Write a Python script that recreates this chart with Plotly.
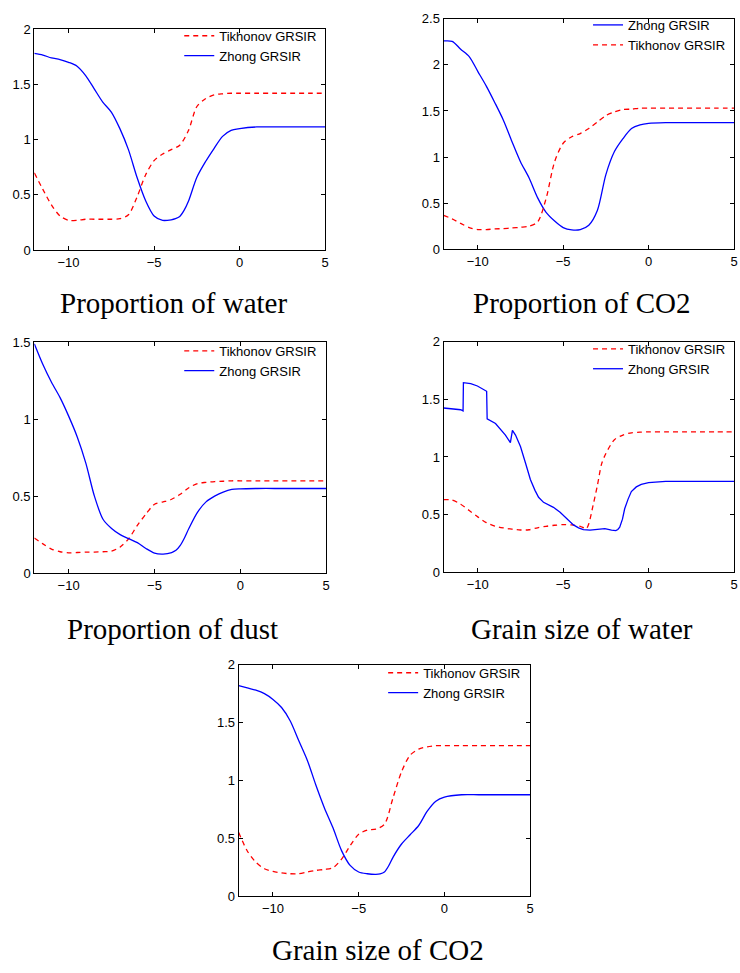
import plotly.graph_objects as go

W, H = 740, 973

# ---------------- data ----------------
X_STD = [-12, -11.5, -11, -10.5, -10, -9.5, -9, -8.5, -8, -7.5, -7, -6.5, -6, -5.5,
         -5, -4.5, -4, -3.5, -3, -2.5, -2, -1.5, -1, -0.5, 0, 1, 2, 3, 4, 5]
X_FINE = [-12, -11.5, -11, -10.5, -10, -9.5, -9, -8.5, -8, -7.5, -7, -6.5, -6, -5.5,
          -5, -4.5, -4, -3.75, -3.5, -3.25, -3, -2.5, -2, -1.5, -1, -0.5, 0, 1, 2, 3, 4, 5]

# Proportion of water
water_tik = [0.70, 0.55, 0.41, 0.31, 0.27, 0.27, 0.28, 0.28, 0.28, 0.28, 0.285, 0.32, 0.48, 0.68,
             0.81, 0.87, 0.91, 0.95, 1.08, 1.30, 1.37, 1.405, 1.415, 1.42, 1.42, 1.42, 1.42, 1.42, 1.42, 1.42]
water_zh = [1.78, 1.765, 1.74, 1.725, 1.70, 1.665, 1.58, 1.46, 1.34, 1.25, 1.10, 0.91, 0.66, 0.45,
            0.31, 0.27, 0.275, 0.285, 0.305, 0.36, 0.44, 0.66, 0.80, 0.92, 1.03, 1.085, 1.10,
            1.115, 1.115, 1.115, 1.115, 1.115]

# Proportion of CO2
co2_zh = [2.26, 2.255, 2.17, 2.09, 1.93, 1.77, 1.59, 1.40, 1.17, 0.95, 0.775, 0.56, 0.40, 0.306,
          0.235, 0.21, 0.213, 0.26, 0.42, 0.81, 1.06, 1.20, 1.31, 1.35, 1.366, 1.373, 1.373, 1.373, 1.373, 1.373]
co2_tik = [0.366, 0.33, 0.28, 0.235, 0.213, 0.213, 0.22, 0.224, 0.23, 0.238, 0.25, 0.295, 0.55, 0.95,
           1.15, 1.22, 1.255, 1.31, 1.38, 1.45, 1.49, 1.515, 1.52, 1.53, 1.53, 1.53, 1.53, 1.53, 1.53, 1.53]

# Proportion of dust
dust_tik = [0.228, 0.19, 0.156, 0.139, 0.132, 0.134, 0.137, 0.137, 0.139, 0.143, 0.17, 0.224, 0.31, 0.384,
            0.448, 0.463, 0.48, 0.512, 0.555, 0.582, 0.59, 0.595, 0.597, 0.6, 0.6, 0.6, 0.6, 0.6, 0.6, 0.6]
dust_zh = [1.49, 1.355, 1.24, 1.14, 1.02, 0.885, 0.715, 0.50, 0.35, 0.29, 0.25, 0.224, 0.198, 0.16,
           0.13, 0.124, 0.134, 0.148, 0.18, 0.23, 0.29, 0.395, 0.463, 0.50, 0.527, 0.544, 0.548,
           0.55, 0.55, 0.55, 0.55, 0.55]

# Grain size of water
gw_tik_x = [-12, -11.5, -11, -10.5, -10, -9.5, -9, -8.5, -8, -7.5, -7, -6.5, -6, -5.5, -5, -4.5, -4,
            -3.65, -3.5, -3.25, -3, -2.75, -2.5, -2, -1.5, -1, -0.5, 0, 1, 2, 3, 4, 5]
gw_tik = [0.63, 0.625, 0.59, 0.535, 0.48, 0.43, 0.40, 0.384, 0.373, 0.366, 0.368, 0.385, 0.398, 0.407,
          0.413, 0.41, 0.398, 0.378, 0.42, 0.58, 0.75, 0.94, 1.03, 1.15, 1.19, 1.21, 1.215, 1.218,
          1.218, 1.218, 1.218, 1.218, 1.218]
gw_zh_x = [-12, -11.5, -11, -10.86, -10.84, -10.41, -10.02, -9.48, -9.45, -8.96, -8.76, -8.38, -8.09,
           -7.97, -7.79, -7.5, -7.21, -6.92, -6.65, -6.44, -6.15, -5.85, -5.57, -5.18, -4.79, -4.4,
           -4.1, -3.82, -3.43, -3.1, -2.85, -2.56, -2.17, -1.92, -1.8, -1.69, -1.53, -1.4, -1.2, -1.01,
           -0.72, -0.43, 0, 0.64, 1, 2, 3, 4, 5]
gw_zh = [1.425, 1.415, 1.41, 1.40, 1.645, 1.636, 1.616, 1.57, 1.33, 1.29, 1.255, 1.19, 1.124,
         1.23, 1.19, 1.09, 0.95, 0.805, 0.71, 0.65, 0.606, 0.58, 0.563, 0.52, 0.464, 0.41,
         0.385, 0.37, 0.364, 0.37, 0.375, 0.378, 0.364, 0.361, 0.37, 0.39, 0.46, 0.55, 0.634, 0.70,
         0.74, 0.762, 0.777, 0.788, 0.788, 0.788, 0.788, 0.788, 0.788]

# Grain size of CO2
gc_zh = [1.82, 1.80, 1.78, 1.75, 1.70, 1.63, 1.516, 1.345, 1.175, 0.96, 0.762, 0.59, 0.393, 0.265,
         0.208, 0.193, 0.188, 0.192, 0.208, 0.262, 0.335, 0.45, 0.53, 0.61, 0.734, 0.82, 0.856,
         0.876, 0.876, 0.876, 0.876, 0.876]
gc_tik = [0.55, 0.39, 0.293, 0.236, 0.213, 0.2, 0.193, 0.193, 0.208, 0.222, 0.23, 0.245, 0.32, 0.435,
          0.535, 0.57, 0.578, 0.62, 0.848, 1.075, 1.218, 1.27, 1.29, 1.30, 1.30, 1.30, 1.30, 1.30, 1.30, 1.30]

X_TICKS = [-10, -5, 0, 5]
Y_TICKS_2 = [0, 0.5, 1, 1.5, 2]
Y_TICKS_25 = [0, 0.5, 1, 1.5, 2, 2.5]
Y_TICKS_15 = [0, 0.5, 1, 1.5]

CAPTIONS = ["Proportion of water", "Proportion of CO2", "Proportion of dust",
            "Grain size of water", "Grain size of CO2"]

# ---------------- layout (pixels) ----------------
# (left, right, top, bottom)
boxes = [
    (34.5, 327, 22.5, 247),
    (446, 738, 12, 246),
    (34.5, 328, 340.5, 575),
    (446, 738, 340, 574),
    (240, 533, 668, 903),
]
yranges = [[0, 2], [0, 2.5], [0, 1.5], [0, 2], [0, 2]]
yticks = [Y_TICKS_2, Y_TICKS_25, Y_TICKS_15, Y_TICKS_2, Y_TICKS_2]
cap_pos = [(174, 301), (585, 301), (173, 632), (585, 632), (380, 958)]
leg_pos = [(324, 14), (735, 3), (324, 334), (735, 332), (529, 661)]

BLUE = "#0000FF"
RED = "#FF0000"
DASH = "5px,4px"

panels = [
    [("Tikhonov GRSIR", X_STD, water_tik, RED, DASH, "spline"),
     ("Zhong GRSIR", X_FINE, water_zh, BLUE, "solid", "spline")],
    [("Zhong GRSIR", X_STD, co2_zh, BLUE, "solid", "spline"),
     ("Tikhonov GRSIR", X_STD, co2_tik, RED, DASH, "spline")],
    [("Tikhonov GRSIR", X_STD, dust_tik, RED, DASH, "spline"),
     ("Zhong GRSIR", X_FINE, dust_zh, BLUE, "solid", "spline")],
    [("Tikhonov GRSIR", gw_tik_x, gw_tik, RED, DASH, "spline"),
     ("Zhong GRSIR", gw_zh_x, gw_zh, BLUE, "solid", "linear")],
    [("Tikhonov GRSIR", X_STD, gc_tik, RED, DASH, "spline"),
     ("Zhong GRSIR", X_FINE, gc_zh, BLUE, "solid", "spline")],
]

SANS = "Liberation Sans, Arial, sans-serif"

fig = go.Figure()
layout = dict(
    width=W, height=H, margin=dict(l=0, r=0, t=0, b=0),
    paper_bgcolor="white", plot_bgcolor="white",
    font=dict(family=SANS, size=13, color="black"),
    annotations=[],
)

for i, (box, traces) in enumerate(zip(boxes, panels)):
    n = i + 1
    xa = "x" if n == 1 else f"x{n}"
    ya = "y" if n == 1 else f"y{n}"
    lg = "legend" if n == 1 else f"legend{n}"
    for name, xs, ys, col, dash, shape in traces:
        line = dict(color=col, width=1.3, dash=dash, shape=shape)
        if shape == "spline":
            line["smoothing"] = 0.8
        fig.add_trace(go.Scatter(x=xs, y=ys, mode="lines", name=name, line=line,
                                 xaxis=xa, yaxis=ya, legend=lg))
    l, r, t, b = box
    axis_common = dict(showline=True, linecolor="black", linewidth=1.2, mirror="allticks",
                       ticks="inside", ticklen=4, tickcolor="black", tickwidth=1,
                       showgrid=False, zeroline=False,
                       tickfont=dict(family=SANS, size=13, color="black"))
    layout["xaxis" if n == 1 else f"xaxis{n}"] = dict(
        domain=[l / W, r / W], range=[-12, 5], tickvals=X_TICKS,
        anchor=ya, **axis_common)
    layout["yaxis" if n == 1 else f"yaxis{n}"] = dict(
        domain=[1 - b / H, 1 - t / H], range=yranges[i], tickvals=yticks[i],
        anchor=xa, **axis_common)
    lx, ly = leg_pos[i]
    layout[lg] = dict(x=lx / W, y=1 - ly / H, xanchor="right", yanchor="top",
                      bgcolor="rgba(255,255,255,0)", borderwidth=0, itemwidth=30,
                      font=dict(family=SANS, size=13, color="black"),
                      tracegroupgap=0)
    cx, cy = cap_pos[i]
    layout["annotations"].append(dict(
        text=CAPTIONS[i], x=cx / W, y=1 - cy / H, xref="paper", yref="paper",
        xanchor="center", yanchor="middle", showarrow=False,
        font=dict(family="Liberation Serif, Times New Roman, serif", size=29, color="black")))

fig.update_layout(**layout)
fig.write_html("out.html")
